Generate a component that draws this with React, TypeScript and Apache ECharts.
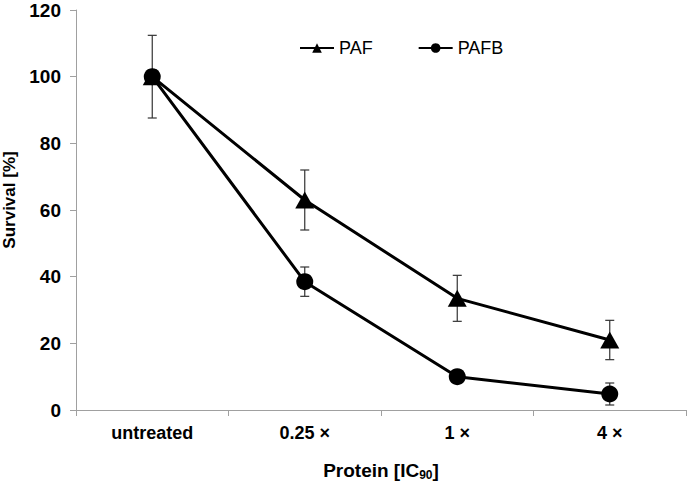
import React, { useEffect, useRef } from "react";
import * as echarts from "echarts";

const categories = ["untreated", "0.25 \u00d7", "1 \u00d7", "4 \u00d7"];
const pafValues = [100, 63, 33.5, 21];
const pafErrors = [12.4, 9, 6.9, 5.9];
const pafbValues = [100, 38.5, 10, 4.8];
const pafbErrors = [2, 4.4, 1.5, 3.3];
const yTicks = { min: 0, max: 120, interval: 20 };

export default function App() {
  const ref = useRef<HTMLDivElement>(null);
  useEffect(() => {
    if (!ref.current) return;
    const chart = echarts.init(ref.current, undefined, { renderer: "svg" });
    const errData: number[][] = [];
    pafValues.forEach((v, i) => errData.push([i, v - pafErrors[i], v + pafErrors[i]]));
    pafbValues.forEach((v, i) => errData.push([i, v - pafbErrors[i], v + pafbErrors[i]]));
    const font = "Liberation Sans, Arial, sans-serif";
    chart.setOption({
      animation: false,
      textStyle: { fontFamily: font },
      grid: { left: 76, right: 3, top: 10, bottom: 76, containLabel: false, outerBoundsMode: "none" },
      legend: {
        left: 294,
        top: 34,
        itemWidth: 34,
        itemHeight: 12,
        itemGap: 45,
        textStyle: { fontSize: 18, color: "#000", fontFamily: font },
        data: ["PAF", "PAFB"],
      },
      xAxis: {
        type: "category",
        data: categories,
        boundaryGap: true,
        axisLine: { lineStyle: { color: "#a0a0a0", width: 1 } },
        axisTick: { show: true, length: 6, lineStyle: { color: "#a0a0a0" } },
        axisLabel: { fontSize: 18, fontWeight: "bold", color: "#000", margin: 14, fontFamily: font },
        name: "Protein [IC{sub|90}]",
        nameLocation: "middle",
        nameGap: 50,
        nameTextStyle: {
          fontSize: 19,
          fontWeight: "bold",
          color: "#000",
          fontFamily: font,
          rich: {
            sub: { fontSize: 12, fontWeight: "bold", color: "#000", verticalAlign: "bottom", padding: [9, 0, 0, 0], fontFamily: font },
          },
        },
      },
      yAxis: {
        type: "value",
        min: yTicks.min,
        max: yTicks.max,
        interval: yTicks.interval,
        splitLine: { show: false },
        axisLine: { show: true, lineStyle: { color: "#a0a0a0", width: 1 } },
        axisTick: { show: true, length: 6, inside: false, lineStyle: { color: "#a0a0a0" } },
        axisLabel: { fontSize: 19, fontWeight: "bold", color: "#000", margin: 15, fontFamily: font },
        name: "Survival [%]",
        nameLocation: "middle",
        nameGap: 57,
        nameRotate: 90,
        nameTextStyle: { fontSize: 17, fontWeight: "bold", color: "#000", fontFamily: font, padding: [0, 0, 0, 20] },
      },
      series: [
        {
          type: "custom",
          name: "err",
          z: 1,
          data: errData,
          renderItem: (params: any, api: any) => {
            const x = api.coord([api.value(0), 0])[0];
            const lo = api.coord([api.value(0), api.value(1)])[1];
            const hi = api.coord([api.value(0), api.value(2)])[1];
            const w = 4.5;
            const style = { stroke: "#333", lineWidth: 1.2 };
            return {
              type: "group",
              children: [
                { type: "line", shape: { x1: x, y1: lo, x2: x, y2: hi }, style },
                { type: "line", shape: { x1: x - w, y1: lo, x2: x + w, y2: lo }, style },
                { type: "line", shape: { x1: x - w, y1: hi, x2: x + w, y2: hi }, style },
              ],
            };
          },
        },
        {
          type: "line",
          name: "PAF",
          z: 2,
          data: pafValues,
          symbol: "triangle",
          symbolSize: [19, 17],
          lineStyle: { color: "#000", width: 3 },
          itemStyle: { color: "#000", borderWidth: 0 },
        },
        {
          type: "line",
          name: "PAFB",
          z: 3,
          data: pafbValues,
          symbol: "circle",
          symbolSize: 17,
          lineStyle: { color: "#000", width: 3 },
          itemStyle: { color: "#000", borderWidth: 0 },
        },
      ],
    });
    return () => chart.dispose();
  }, []);
  return <div ref={ref} style={{ width: 689, height: 486, position: "absolute", left: 0, top: 0, background: "#fff" }} />;
}
